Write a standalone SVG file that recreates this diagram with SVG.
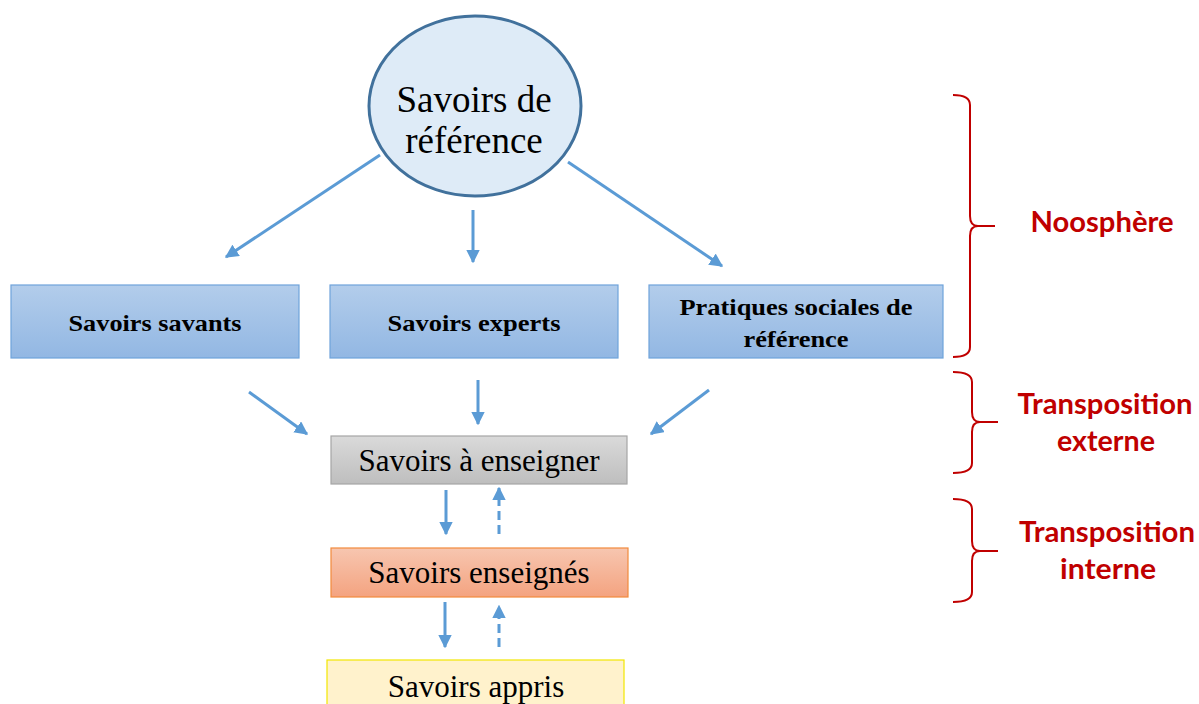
<svg xmlns="http://www.w3.org/2000/svg" width="1199" height="704" viewBox="0 0 1199 704">
  <defs>
    <linearGradient id="gBlue" x1="0" y1="0" x2="0" y2="1">
      <stop offset="0" stop-color="#B3CDEB"/>
      <stop offset="1" stop-color="#92B7E3"/>
    </linearGradient>
    <linearGradient id="gGray" x1="0" y1="0" x2="0" y2="1">
      <stop offset="0" stop-color="#DADADA"/>
      <stop offset="1" stop-color="#BEBEBE"/>
    </linearGradient>
    <linearGradient id="gOrange" x1="0" y1="0" x2="0" y2="1">
      <stop offset="0" stop-color="#F7C6B0"/>
      <stop offset="1" stop-color="#F4A380"/>
    </linearGradient>
    <marker id="ah" viewBox="0 0 10 10" refX="9" refY="5" markerWidth="4.5" markerHeight="4.5" markerUnits="strokeWidth" orient="auto">
      <path d="M0,0 L10,5 L0,10 z" fill="#5B9BD5"/>
    </marker>
    <style>
      .conn { stroke: #5B9BD5; stroke-width: 3; fill: none; marker-end: url(#ah); }
      .dash { stroke-dasharray: 9 5; }
      .brace { stroke: #C00000; stroke-width: 2; fill: none; }
      .serif { font-family: "Liberation Serif", "Times New Roman", serif; fill: #000; text-anchor: middle; }
      .bold { font-weight: bold; font-size: 24px; }
      .mid { font-size: 31px; }
      .lbl { font-family: "Lato", "Liberation Sans", sans-serif; font-weight: bold; fill: #C00000; font-size: 28px; text-anchor: middle; }
      .box { stroke-width: 1.2; }
    </style>
  </defs>

  <rect width="1199" height="704" fill="#FFFFFF"/>

  <!-- connectors -->
  <g id="connectors">
    <line class="conn" x1="380" y1="155" x2="226" y2="257"/>
    <line class="conn" x1="473" y1="210" x2="473" y2="262"/>
    <line class="conn" x1="568" y1="162" x2="722" y2="266"/>
    <line class="conn" x1="249" y1="392" x2="307" y2="434"/>
    <line class="conn" x1="478" y1="380" x2="478" y2="424"/>
    <line class="conn" x1="709" y1="390" x2="651" y2="434"/>
    <line class="conn" x1="446" y1="490" x2="446" y2="534"/>
    <line class="conn dash" x1="499" y1="534" x2="499" y2="488"/>
    <line class="conn" x1="445" y1="602" x2="445" y2="647"/>
    <line class="conn dash" x1="499" y1="647" x2="499" y2="606"/>
  </g>

  <g id="savoirs-reference">
    <ellipse cx="475" cy="106" rx="106" ry="90" fill="#DEEBF7" stroke="#41719C" stroke-width="3"/>
    <text class="serif" x="474" y="112" font-size="37">Savoirs de</text>
    <text class="serif" x="474" y="153" font-size="37">référence</text>
  </g>

  <g id="savoirs-savants">
    <rect class="box" x="11" y="285" width="288" height="73" fill="url(#gBlue)" stroke="#6FA3DB"/>
    <text class="serif bold" x="155" y="331" textLength="173" lengthAdjust="spacingAndGlyphs">Savoirs savants</text>
  </g>

  <g id="savoirs-experts">
    <rect class="box" x="330" y="285" width="288" height="73" fill="url(#gBlue)" stroke="#6FA3DB"/>
    <text class="serif bold" x="474" y="331" textLength="173" lengthAdjust="spacingAndGlyphs">Savoirs experts</text>
  </g>

  <g id="pratiques-sociales">
    <rect class="box" x="649" y="285" width="294" height="73" fill="url(#gBlue)" stroke="#6FA3DB"/>
    <text class="serif bold" x="796" y="315" textLength="233" lengthAdjust="spacingAndGlyphs">Pratiques sociales de</text>
    <text class="serif bold" x="796" y="347" textLength="105" lengthAdjust="spacingAndGlyphs">référence</text>
  </g>

  <g id="savoirs-a-enseigner">
    <rect class="box" x="331" y="436" width="296" height="48" fill="url(#gGray)" stroke="#A6A6A6"/>
    <text class="serif mid" x="479" y="471">Savoirs à enseigner</text>
  </g>

  <g id="savoirs-enseignes">
    <rect class="box" x="331" y="548" width="297" height="49" fill="url(#gOrange)" stroke="#F28A3C"/>
    <text class="serif mid" x="479" y="583">Savoirs enseignés</text>
  </g>

  <g id="savoirs-appris">
    <rect class="box" x="327" y="660" width="297" height="50" fill="#FFF2CC" stroke="#F2E600" stroke-width="1.5"/>
    <text class="serif mid" x="476" y="697">Savoirs appris</text>
  </g>

  <!-- curly braces and their labels -->
  <g id="noosphere">
    <path class="brace" d="M953,95 Q970,95 970,105 L970,216 Q970,226 978,226 L995,226 M978,226 Q970,226 970,236 L970,347 Q970,357 953,357"/>
    <text class="lbl" x="1102" y="232" textLength="143" lengthAdjust="spacingAndGlyphs">Noosphère</text>
  </g>

  <g id="transposition-externe">
    <path class="brace" d="M953,372 Q972,372 972,382 L972,412 Q972,422 980,422 L998,422 M980,422 Q972,422 972,432 L972,463 Q972,473 953,473"/>
    <text class="lbl" x="1105" y="414" textLength="175" lengthAdjust="spacingAndGlyphs">Transposition</text>
    <text class="lbl" x="1106" y="451" textLength="98" lengthAdjust="spacingAndGlyphs">externe</text>
  </g>

  <g id="transposition-interne">
    <path class="brace" d="M953,499 Q972,499 972,509 L972,541 Q972,551 980,551 L998,551 M980,551 Q972,551 972,561 L972,592 Q972,602 953,602"/>
    <text class="lbl" x="1107" y="542" textLength="176" lengthAdjust="spacingAndGlyphs">Transposition</text>
    <text class="lbl" x="1108" y="579" textLength="96" lengthAdjust="spacingAndGlyphs">interne</text>
  </g>
</svg>
